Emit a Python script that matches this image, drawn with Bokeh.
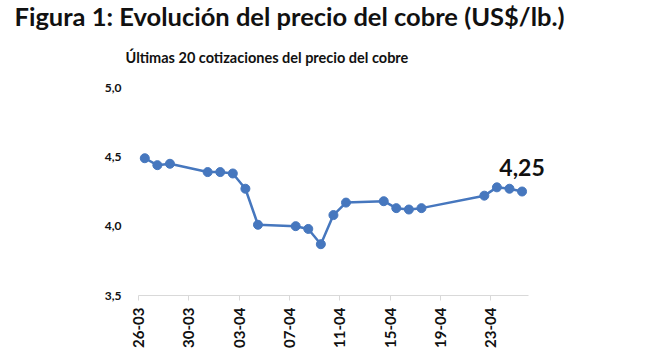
import pandas as pd
from bokeh.plotting import figure
from bokeh.models import (Range1d, FixedTicker, DatetimeTickFormatter,
                          CustomJSTickFormatter, Label, Title, ColumnDataSource)
from bokeh.embed import file_html
from bokeh.resources import INLINE

# ---- data ----
dates = ["2025-03-26", "2025-03-27", "2025-03-28", "2025-03-31", "2025-04-01",
         "2025-04-02", "2025-04-03", "2025-04-04", "2025-04-07", "2025-04-08",
         "2025-04-09", "2025-04-10", "2025-04-11", "2025-04-14", "2025-04-15",
         "2025-04-16", "2025-04-17", "2025-04-22", "2025-04-23", "2025-04-24",
         "2025-04-25"]
prices = [4.49, 4.44, 4.45, 4.39, 4.39, 4.38, 4.27, 4.01, 4.00, 3.98, 3.87,
          4.08, 4.17, 4.18, 4.13, 4.12, 4.13, 4.22, 4.28, 4.27, 4.25]
tick_dates = ["2025-03-26", "2025-03-30", "2025-04-03", "2025-04-07",
              "2025-04-11", "2025-04-15", "2025-04-19", "2025-04-23"]
axis_start, axis_end = "2025-03-26", "2025-04-26"
y_ticks = [3.5, 4.0, 4.5, 5.0]
title_text = "Figura 1: Evolución del precio del cobre (US$/lb.)"
subtitle_text = "Últimas 20 cotizaciones del precio del cobre"

x = pd.to_datetime(dates) + pd.Timedelta(hours=12)
src = ColumnDataSource(dict(x=x, y=prices))

BLUE = "#4677be"
FONT = "Lato"
TXT = "#111111"

p = figure(width=640, height=350, output_backend="svg", toolbar_location=None,
           x_axis_type="datetime",
           x_range=Range1d(pd.Timestamp(axis_start),
                           pd.Timestamp(axis_end) + pd.Timedelta(days=2)),
           y_range=Range1d(3.5, 5.0),
           min_border_left=138, min_border_right=87,
           min_border_top=87, min_border_bottom=52)
p.outline_line_color = None
p.grid.visible = False
p.background_fill_color = "white"
p.border_fill_color = "white"

p.line("x", "y", source=src, line_color=BLUE, line_width=2.5)
p.scatter("x", "y", source=src, size=9, fill_color=BLUE, line_color=BLUE)

# last value label
p.add_layout(Label(x=x[-1].value / 1e6, y=prices[-1],
                   text=f"{prices[-1]:.2f}".replace(".", ","),
                   text_align="center", text_baseline="bottom", y_offset=16,
                   text_font=FONT, text_font_style="bold",
                   text_font_size="23px", text_color=TXT))

# x axis
xa = p.xaxis[0]
xa.bounds = (pd.Timestamp(axis_start).value / 1e6, pd.Timestamp(axis_end).value / 1e6)
xa.ticker = FixedTicker(ticks=[pd.Timestamp(d).value / 1e6 for d in tick_dates])
fmt = "%d-%m"
xa.formatter = DatetimeTickFormatter(days=fmt, months=fmt, hours=fmt, years=fmt)
xa.major_label_orientation = 1.5707963
xa.axis_line_color = "#d9d9d9"
xa.major_tick_line_color = "#d9d9d9"
xa.major_tick_out = 5
xa.major_tick_in = 0
xa.minor_tick_line_color = None
xa.major_label_standoff = 7
xa.major_label_text_font = FONT
xa.major_label_text_font_style = "bold"
xa.major_label_text_font_size = "15px"
xa.major_label_text_color = TXT

# y axis
ya = p.yaxis[0]
ya.ticker = FixedTicker(ticks=y_ticks)
ya.formatter = CustomJSTickFormatter(code="return tick.toFixed(1).replace('.', ',');")
ya.axis_line_color = None
ya.major_tick_line_color = None
ya.minor_tick_line_color = None
ya.major_label_standoff = 11
ya.major_label_text_font = FONT
ya.major_label_text_font_style = "bold"
ya.major_label_text_font_size = "12px"
ya.major_label_text_color = TXT

# titles
p.add_layout(Title(text=subtitle_text, align="left", offset=-13, standoff=44,
                   text_font=FONT, text_font_style="bold",
                   text_font_size="14.5px", text_color=TXT), "above")
p.add_layout(Title(text=title_text, align="left", offset=-124, standoff=-12,
                   text_font=FONT, text_font_style="bold",
                   text_font_size="25.5px", text_color=TXT), "above")

open("out.html", "w").write(file_html(p, INLINE))
